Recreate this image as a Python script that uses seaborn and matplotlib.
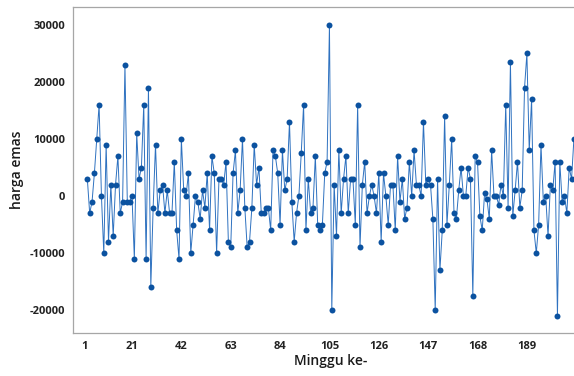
import numpy as np
import pandas as pd
import matplotlib
matplotlib.use("Agg")
import matplotlib.pyplot as plt
import seaborn as sns

# Weekly change in gold price (week index starts at 2: first difference undefined)
harga_emas = [
    3000, -3000, -1000, 4000, 10000, 16000, 0, -10000, 9000, -8000,
    2000, -7000, 2000, 7000, -3000, -1000, 23000, -1000, -1000, 0,
    -11000, 11000, 3000, 5000, 16000, -11000, 19000, -16000, -2000, 9000,
    -3000, 1000, 2000, -3000, 1000, -3000, -3000, 6000, -6000, -11000,
    10000, 1000, 0, 4000, -10000, -5000, 0, -1000, -4000, 1000,
    -2000, 4000, -6000, 7000, 4000, -10000, 3000, 3000, 2000, 6000,
    -8000, -9000, 4000, 8000, -3000, 1000, 10000, -2000, -9000, -8000,
    -2000, 9000, 2000, 5000, -3000, -3000, -2000, -2000, -6000, 8000,
    7000, 4000, -5000, 8000, 1000, 3000, 13000, -1000, -8000, -3000,
    0, 7500, 16000, -6000, 3000, -3000, -2000, 7000, -5000, -6000,
    -5000, 4000, 6000, 30000, -20000, 2000, -7000, 8000, -3000, 3000,
    7000, -3000, 3000, 3000, -5000, 16000, -9000, 2000, 6000, -3000,
    0, 2000, 0, -3000, 4000, -8000, 4000, 0, -5000, 2000,
    2000, -6000, 7000, -1000, 3000, -4000, -2000, 6000, 0, 8000,
    2000, 2000, 0, 13000, 2000, 3000, 2000, -4000, -20000, 3000,
    -13000, -6000, 14000, -5000, 2000, 10000, -3000, -4000, 1000, 5000,
    0, 0, 5000, 3000, -17500, 7000, 6000, -3500, -6000, 500,
    -500, -4000, 8000, 0, 0, -1500, 2000, 0, 16000, -2000,
    23500, -3500, 1000, 6000, -2000, 1000, 19000, 25000, 8000, 17000,
    -6000, -10000, -5000, 9000, -1000, 0, -7000, 2000, 1000, 6000,
    -21000, 6000, -1000, 0, -3000, 5000, 3000, 10000,
]
minggu = list(range(2, 2 + len(harga_emas)))
x_ticks = [1, 21, 42, 63, 84, 105, 126, 147, 168, 189]
y_ticks = [-20000, -10000, 0, 10000, 20000, 30000]

df = pd.DataFrame({"Minggu ke-": minggu, "harga emas": harga_emas})

sns.set_style("white")
plt.rcParams["font.family"] = ["Open Sans", "DejaVu Sans"]

W, H = 574, 376
fig = plt.figure(figsize=(W / 100, H / 100), dpi=100)
left_px, right_px, top_px, bot_px = 73, 588, 7, 333
ax = fig.add_axes([left_px / W, 1 - bot_px / H, (right_px - left_px) / W, (bot_px - top_px) / H])

line_color = "#2f72c0"
dot_color = "#0b52a0"
sns.lineplot(data=df, x="Minggu ke-", y="harga emas", ax=ax, color=line_color,
             linewidth=0.7, marker="o", markersize=4.3, markeredgewidth=0,
             markerfacecolor=dot_color)

ax.set_xlim(-4.1, 215)
ax.set_ylim(-24000, 33150)
ax.set_xticks(x_ticks)
ax.set_yticks(y_ticks)
ax.set_xticklabels([str(t) for t in x_ticks])
ax.set_yticklabels([str(t) for t in y_ticks])

for s in ax.spines.values():
    s.set_color("#a6a6a6")
    s.set_linewidth(0.9)

ax.tick_params(axis="both", which="major", length=3.5, width=0.8, color="#a6a6a6",
               labelsize=8, labelcolor="#222222", pad=2)
for lab in ax.get_xticklabels() + ax.get_yticklabels():
    lab.set_fontweight("bold")

ax.set_xlabel("Minggu ke-", fontsize=10, color="#1a1a1a", labelpad=2, fontweight="semibold")
ax.set_ylabel("harga emas", fontsize=10, color="#1a1a1a", labelpad=4, fontweight="semibold")
ax.grid(False)

fig.savefig("out.png", dpi=100)
